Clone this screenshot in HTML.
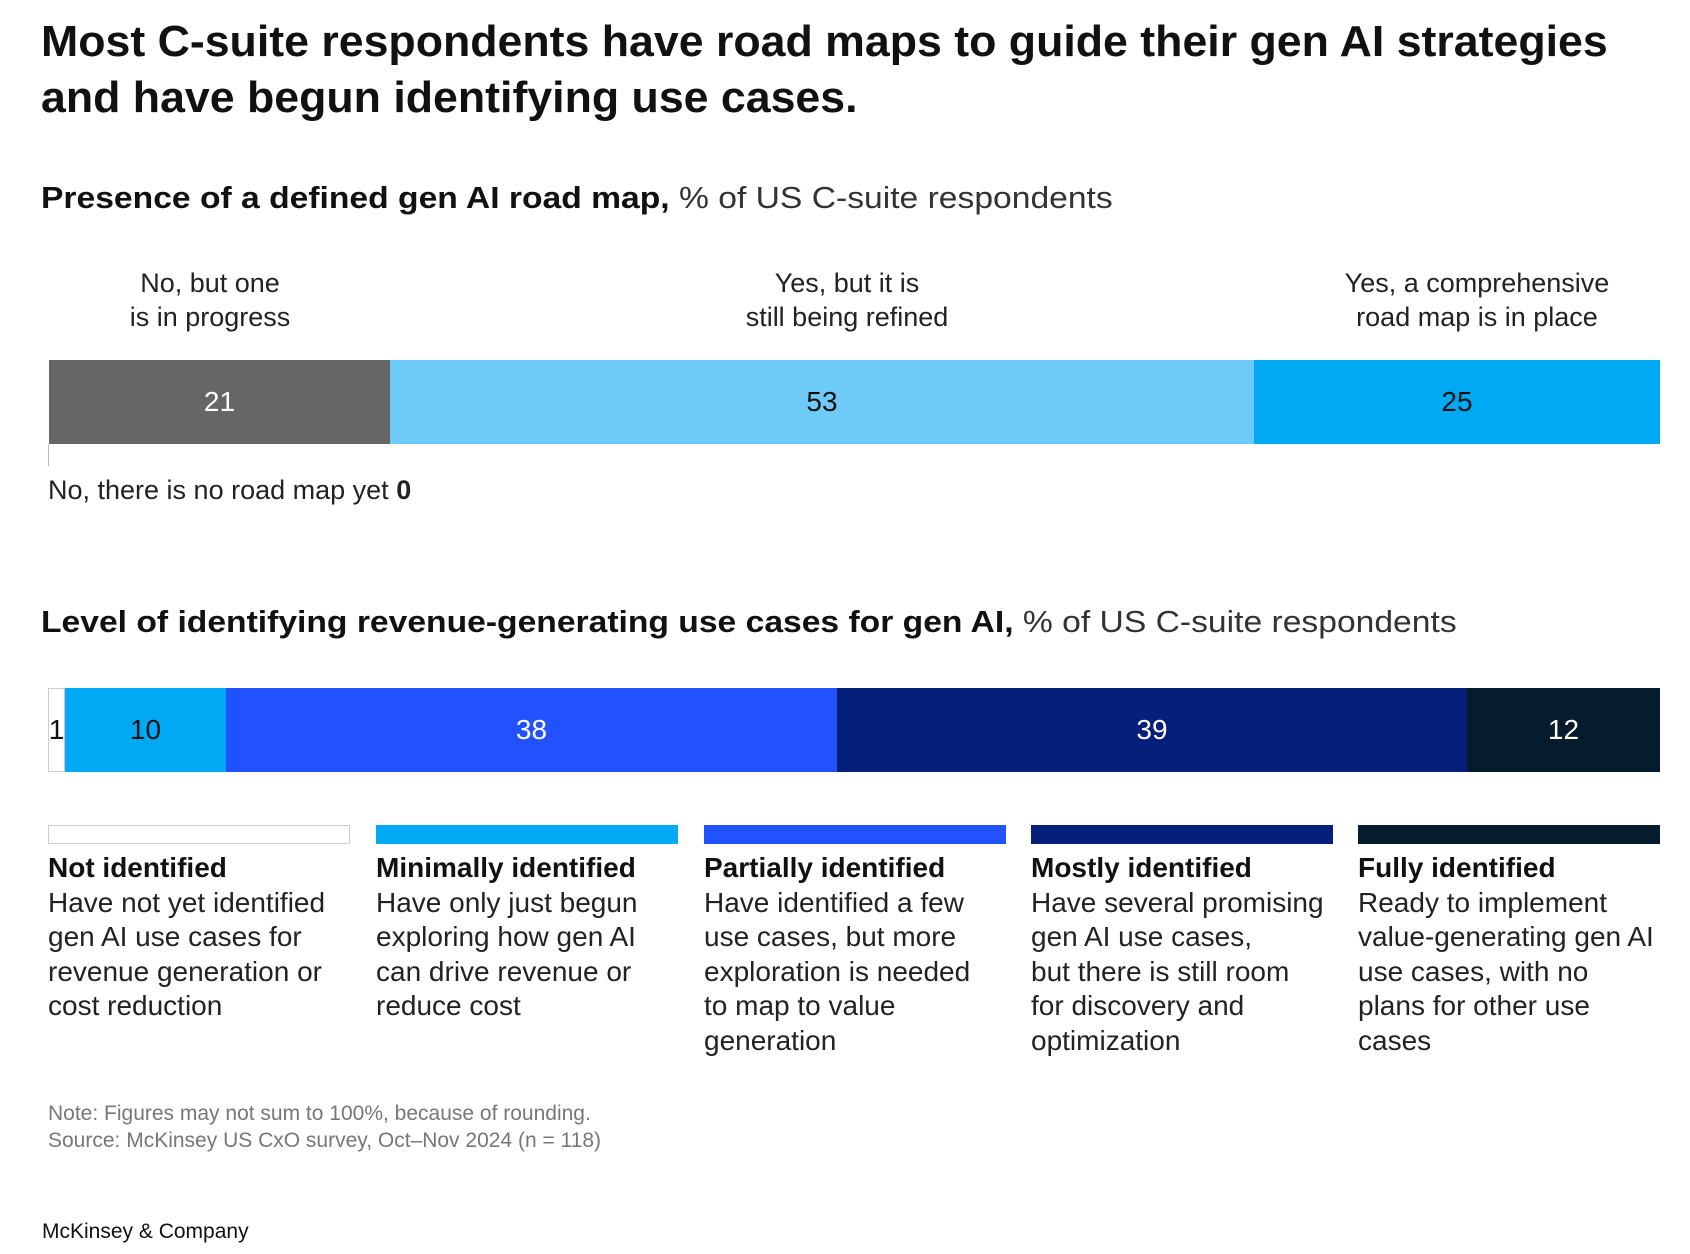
<!DOCTYPE html>
<html><head><meta charset="utf-8">
<style>
*{margin:0;padding:0;box-sizing:border-box}
body{width:1690px;height:1254px;background:#fff;position:relative;overflow:hidden;font-family:"Liberation Sans",sans-serif;color:#111}
.t{position:absolute;white-space:nowrap;transform-origin:0 0}
.c{position:absolute;white-space:nowrap;text-align:center;transform:translateX(-50%)}
.seg{position:absolute;display:flex;align-items:center;justify-content:center;font-size:28px}
.lg{position:absolute;top:851px;width:310px;font-size:28px;line-height:34.6px;color:#222}
.lg b{color:#111}
.sw{position:absolute;top:825px;height:19px;width:302px}
</style></head><body>
<div class="t" style="left:41px;top:14px;font-size:44px;font-weight:bold;line-height:56px;transform:scaleX(1.015)">Most C-suite respondents have road maps to guide their gen AI strategies<br>and have begun identifying use cases.</div>
<div class="t" style="left:41px;top:180px;font-size:31px;transform:scaleX(1.085)"><b>Presence of a defined gen AI road map,</b> <span style="color:#333">% of US C-suite respondents</span></div>

<div class="c" style="left:210px;top:266px;font-size:27px;line-height:34px;color:#222">No, but one<br>is in progress</div>
<div class="c" style="left:847px;top:266px;font-size:27px;line-height:34px;color:#222">Yes, but it is<br>still being refined</div>
<div class="c" style="left:1477px;top:266px;font-size:27px;line-height:34px;color:#222">Yes, a comprehensive<br>road map is in place</div>

<div class="seg" style="left:49px;top:360px;width:341px;height:84px;background:#666;color:#fff">21</div>
<div class="seg" style="left:390px;top:360px;width:864px;height:84px;background:#6ecbf7;color:#111">53</div>
<div class="seg" style="left:1254px;top:360px;width:406px;height:84px;background:#00a9f4;color:#111">25</div>
<div style="position:absolute;left:48px;top:444px;width:1px;height:22px;background:#bbb"></div>
<div class="t" style="left:48px;top:475px;font-size:27px;color:#222">No, there is no road map yet <b>0</b></div>

<div class="t" style="left:41px;top:604px;font-size:31px;transform:scaleX(1.085)"><b>Level of identifying revenue-generating use cases for gen AI,</b> <span style="color:#333">% of US C-suite respondents</span></div>

<div class="seg" style="left:48px;top:688px;width:17px;height:84px;background:#fff;border:1px solid #ccc;color:#111">1</div>
<div class="seg" style="left:65px;top:688px;width:161px;height:84px;background:#00a9f4;color:#111">10</div>
<div class="seg" style="left:226px;top:688px;width:611px;height:84px;background:#2251ff;color:#fff">38</div>
<div class="seg" style="left:837px;top:688px;width:630px;height:84px;background:#061f7a;color:#fff">39</div>
<div class="seg" style="left:1467px;top:688px;width:193px;height:84px;background:#051c2c;color:#fff">12</div>

<div class="sw" style="left:48px;background:#fff;border:1px solid #ccc"></div>
<div class="sw" style="left:376px;background:#00a9f4"></div>
<div class="sw" style="left:704px;background:#2251ff"></div>
<div class="sw" style="left:1031px;background:#061f7a"></div>
<div class="sw" style="left:1358px;background:#051c2c"></div>

<div class="lg" style="left:48px"><b>Not identified</b><br>Have not yet identified<br>gen AI use cases for<br>revenue generation or<br>cost reduction</div>
<div class="lg" style="left:376px"><b>Minimally identified</b><br>Have only just begun<br>exploring how gen AI<br>can drive revenue or<br>reduce cost</div>
<div class="lg" style="left:704px"><b>Partially identified</b><br>Have identified a few<br>use cases, but more<br>exploration is needed<br>to map to value<br>generation</div>
<div class="lg" style="left:1031px"><b>Mostly identified</b><br>Have several promising<br>gen AI use cases,<br>but there is still room<br>for discovery and<br>optimization</div>
<div class="lg" style="left:1358px;width:330px"><b>Fully identified</b><br>Ready to implement<br>value-generating gen AI<br>use cases, with no<br>plans for other use<br>cases</div>

<div class="t" style="left:48px;top:1100px;font-size:21px;line-height:27px;color:#777">Note: Figures may not sum to 100%, because of rounding.<br>Source: McKinsey US CxO survey, Oct–Nov 2024 (n = 118)</div>
<div class="t" style="left:42px;top:1220px;font-size:21px;color:#111">McKinsey &amp; Company</div>
</body></html>
